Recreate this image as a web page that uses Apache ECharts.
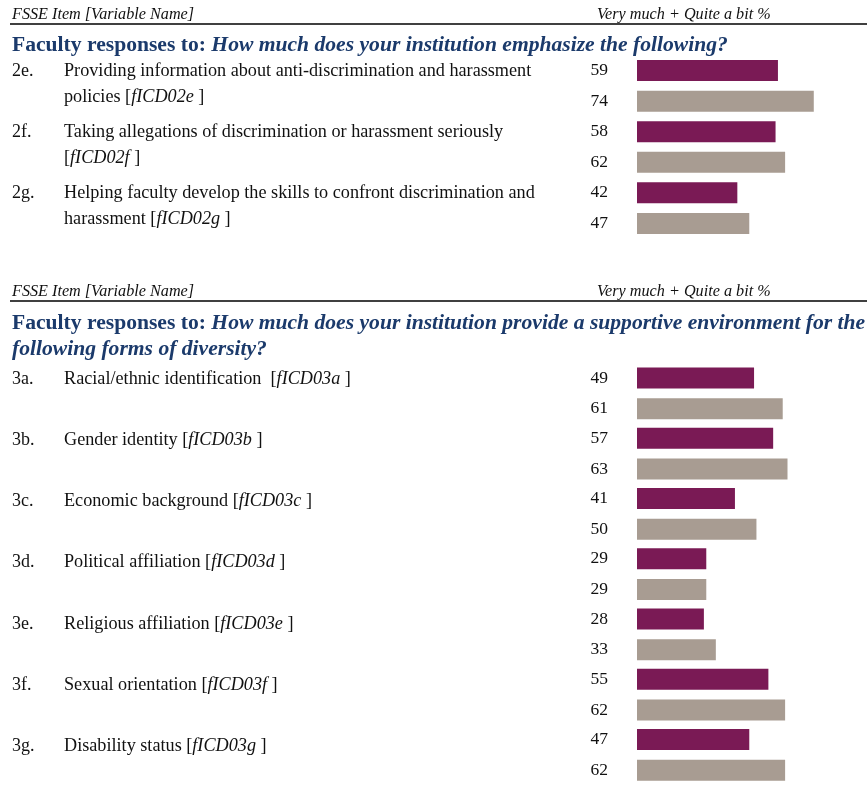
<!DOCTYPE html>
<html><head><meta charset="utf-8">
<script src="https://cdn.jsdelivr.net/npm/echarts@6/dist/echarts.min.js"></script>
<style>html,body{margin:0;padding:0;background:#fff}#c{width:867px;height:785px}</style>
</head><body><div id="c"></div>
<script>
// ---- data ----
const headerLeft = 'FSSE Item [Variable Name]';
const headerRight = 'Very much + Quite a bit %';
const titlePrefix = 'Faculty responses to: ';
const title1 = 'How much does your institution emphasize the following?';
const title2a = 'How much does your institution provide a supportive environment for the';
const title2b = 'following forms of diversity?';

const codes1 = ['2e.', '2f.', '2g.'];
const items1 = ['Providing information about anti-discrimination and harassment\npolicies [',
                'Taking allegations of discrimination or harassment seriously\n[',
                'Helping faculty develop the skills to confront discrimination and\nharassment ['];
const vars1 = ['fICD02e', 'fICD02f', 'fICD02g'];
const inst1 = [59, 58, 42];
const comp1 = [74, 62, 47];

const codes2 = ['3a.', '3b.', '3c.', '3d.', '3e.', '3f.', '3g.'];
const items2 = ['Racial/ethnic identification  [', 'Gender identity [', 'Economic background [',
                'Political affiliation [', 'Religious affiliation [', 'Sexual orientation [', 'Disability status ['];
const vars2 = ['fICD03a', 'fICD03b', 'fICD03c', 'fICD03d', 'fICD03e', 'fICD03f', 'fICD03g'];
const inst2 = [49, 57, 41, 29, 28, 55, 47];
const comp2 = [61, 63, 50, 29, 33, 62, 62];

// ---- styles ----
const SERIF = "'Liberation Serif','Times New Roman',serif";
const PURPLE = '#7A1A55';
const GRAY = '#A89C92';
const NAVY = '#1B3A6B';
const BAND = 61.2;

const chart = echarts.init(document.getElementById('c'), null, {renderer: 'canvas'});

const graphic = [];
function header(y) {
  graphic.push({type: 'text', x: 12, y: y, style: {text: headerLeft, font: 'italic 16.2px ' + SERIF, fill: '#111', verticalAlign: 'middle'}});
  graphic.push({type: 'text', x: 597, y: y, style: {text: headerRight, font: 'italic 16.2px ' + SERIF, fill: '#111', verticalAlign: 'middle'}});
  graphic.push({type: 'line', shape: {x1: 10, y1: y + 9, x2: 867, y2: y + 9}, style: {stroke: '#000', lineWidth: 1.5}});
}
function titleLine(y, prefix, text) {
  graphic.push({type: 'text', x: 12, y: y, style: {
    text: (prefix ? '{b|' + prefix + '}' : '') + '{i|' + text + '}',
    verticalAlign: 'middle',
    rich: {
      b: {font: 'bold 21.6px ' + SERIF, fill: NAVY},
      i: {font: 'italic bold 21.6px ' + SERIF, fill: NAVY}
    }
  }});
}
function rows(y0, codes, items, vars) {
  codes.forEach((c, i) => {
    const y = y0 + i * BAND;
    graphic.push({type: 'text', x: 12, y: y, style: {text: c, font: '18px ' + SERIF, fill: '#111', verticalAlign: 'middle'}});
    graphic.push({type: 'text', x: 64, y: y - 13, style: {
      text: '{n|' + items[i].replace('\n', '}\n{n|') + '}{i|' + vars[i] + '}{n| ]}',
      verticalAlign: 'top',
      lineHeight: 26,
      rich: {
        n: {font: '18.2px ' + SERIF, fill: '#111', lineHeight: 26},
        i: {font: 'italic 18.2px ' + SERIF, fill: '#111', lineHeight: 26}
      }
    }});
  });
}

header(15);
titleLine(45, titlePrefix, title1);
rows(71, codes1, items1, vars1);
header(292);
titleLine(323, titlePrefix, title2a);
titleLine(349, '', title2b);
rows(379, codes2, items2, vars2);

const labelCfg = {show: true, position: 'left', distance: 29, formatter: '{c}',
  fontFamily: SERIF, fontSize: 17.5, color: '#111'};

function barSeries(idx, data, color) {
  return {type: 'bar', xAxisIndex: idx, yAxisIndex: idx, data: data, barWidth: 21, barGap: '46%',
    itemStyle: {color: color}, label: labelCfg, silent: true};
}

chart.setOption({
  animation: false,
  backgroundColor: '#fff',
  graphic: graphic,
  grid: [
    {left: 637, width: 215, top: 55.2, height: BAND * codes1.length},
    {left: 637, width: 215, top: 363.2, height: BAND * codes2.length}
  ],
  xAxis: [
    {gridIndex: 0, type: 'value', min: 0, max: 90, show: false},
    {gridIndex: 1, type: 'value', min: 0, max: 90, show: false}
  ],
  yAxis: [
    {gridIndex: 0, type: 'category', data: codes1, inverse: true, show: false},
    {gridIndex: 1, type: 'category', data: codes2, inverse: true, show: false}
  ],
  series: [
    barSeries(0, inst1, PURPLE),
    barSeries(0, comp1, GRAY),
    barSeries(1, inst2, PURPLE),
    barSeries(1, comp2, GRAY)
  ]
});
</script>
</body></html>
